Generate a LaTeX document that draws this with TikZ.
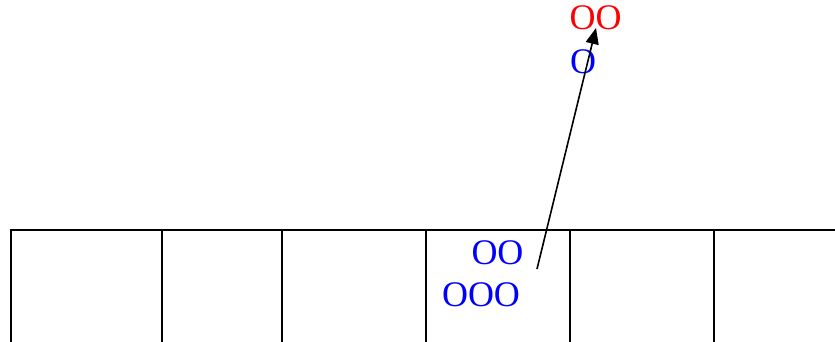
\documentclass[tikz,border=0pt]{standalone}
\usepackage{fontspec}
\setmainfont{Liberation Serif}
\usetikzlibrary{arrows.meta}
\begin{document}
\begin{tikzpicture}[x=1pt,y=-1pt,
  cell/.style={draw=black,line width=2.2pt},
  lbl/.style={inner sep=0pt,font=\fontsize{36}{42}\selectfont},
  conn/.style={draw=black,line width=1.6pt,-{Triangle[length=16pt,width=13pt]}}]
\useasboundingbox (0,0) rectangle (835,341);
\clip (0,0) rectangle (835,341);
\foreach \a/\b in {11/162,162/282,282/426,426/570,570/714,714/870}
  \draw[cell] (\a,230) rectangle (\b,380);
\node[lbl,text=red] (top) at (595.5,17.5) {OO};
\node[lbl,text=blue] (mid) at (583,62) {O};
\node[lbl,text=blue] (c1) at (497.5,253) {OO};
\node[lbl,text=blue] (c2) at (481,295) {OOO};
\coordinate (tail) at (537,269);
\coordinate (tip) at (596,28);
\draw[conn] (tail) -- (tip);
\end{tikzpicture}
\end{document}
